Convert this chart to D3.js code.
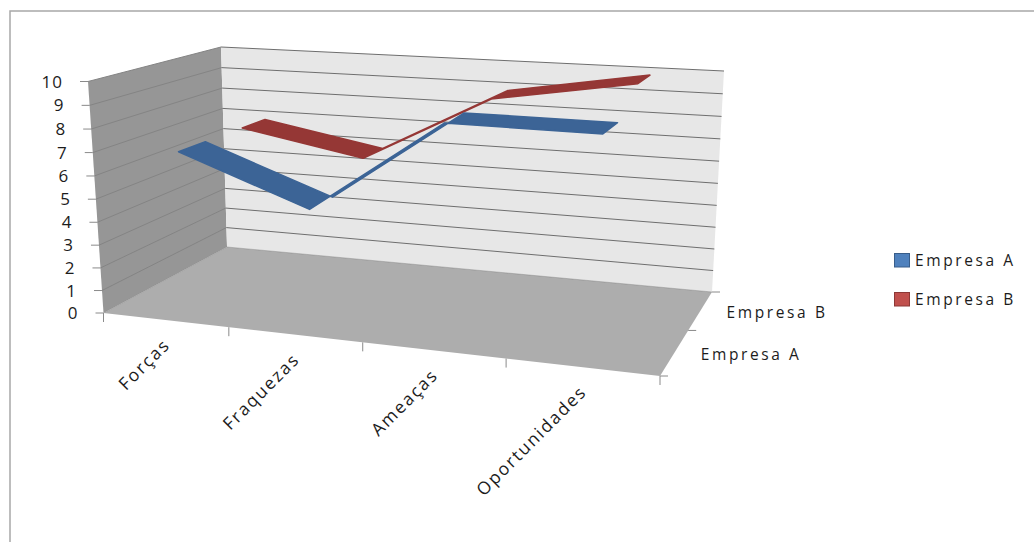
<!DOCTYPE html>
<html lang="pt">
<head>
<meta charset="utf-8">
<script src="https://cdn.jsdelivr.net/npm/d3@7"></script>
<style>
  html, body { margin: 0; padding: 0; background: #fff; }
  svg { display: block; }
  text { font-family: "Open Sans", "Noto Sans", sans-serif; fill: #1c1c1c; }
</style>
</head>
<body>
<svg id="chart" width="1034" height="542"></svg>
<script>
// Chart content
const categories = ["Forças", "Fraquezas", "Ameaças", "Oportunidades"];
const seriesNames = ["Empresa A", "Empresa B"];
const empresaA = [7, 5, 9, 9];
const empresaB = [7, 6, 9, 10];
const valueTicks = [0, 1, 2, 3, 4, 5, 6, 7, 8, 9, 10];
const seriesFill = ["#3c6496", "#953735"];
const swatchFill = ["#4f81bd", "#c0504d"];
const swatchEdge = ["#385d8a", "#8c3836"];

// Box corners on the page: floor and ceiling, listed as
// front-left, front-right, back-right, back-left.
const floorCorners = [[103.5, 313], [660, 376], [712, 292], [227, 247]];
const ceilCorners = [[88, 81.5], [670, 120], [724, 71], [221, 47]];

// Perspective map of the unit square onto a quadrilateral.
function quadMap(q) {
  const [[x0, y0], [x1, y1], [x2, y2], [x3, y3]] = q;
  const dx1 = x1 - x2, dx2 = x3 - x2, sx = x0 - x1 + x2 - x3;
  const dy1 = y1 - y2, dy2 = y3 - y2, sy = y0 - y1 + y2 - y3;
  const det = dx1 * dy2 - dx2 * dy1;
  const g = (sx * dy2 - dx2 * sy) / det;
  const h = (dx1 * sy - sx * dy1) / det;
  const a = x1 - x0 + g * x1, b = x3 - x0 + h * x3;
  const d = y1 - y0 + g * y1, e = y3 - y0 + h * y3;
  return (u, w) => {
    const k = g * u + h * w + 1;
    return [(a * u + b * w + x0) / k, (d * u + e * w + y0) / k];
  };
}
const onFloor = quadMap(floorCorners);
const onCeil = quadMap(ceilCorners);

// Scales from data space to box space
const xBand = d3.scaleBand().domain(categories).range([0, 1]);
const yScale = d3.scaleLinear().domain([0, 10]).range([0, 1]);
const depthBand = d3.scaleBand().domain(seriesNames).range([0, 1]);
const ribbonStart = 0.24, ribbonEnd = 0.64;   // ribbon extent within its depth band
const ribbonShift = 0.018;                    // ribbons sit slightly right of the band centres
const rise = v => { const k = -0.033; return v * (1 + k) / (1 + k * v); };

function project(u, v, w) {
  const a = onFloor(u, w), b = onCeil(u, w), t = rise(v);
  return [a[0] + (b[0] - a[0]) * t, a[1] + (b[1] - a[1]) * t];
}

const svg = d3.select("#chart");
const outline = d3.line();
const axisColor = "#8a8a8a";

// Outer frame, open to the right and bottom
svg.append("path")
  .attr("d", outline([[10, 542], [10, 11], [1034, 11]]))
  .attr("fill", "none").attr("stroke", "#a8a8a8").attr("stroke-width", 1.5);

// Walls and floor
const face = (pts, fill) => svg.append("path")
  .attr("d", outline(pts) + "Z").attr("fill", fill);
face([project(0, 0, 0), project(0, 1, 0), project(0, 1, 1), project(0, 0, 1)], "#969696");
face([project(0, 0, 1), project(0, 1, 1), project(1, 1, 1), project(1, 0, 1)], "#e7e7e7");
face([project(0, 0, 0), project(1, 0, 0), project(1, 0, 1), project(0, 0, 1)], "#adadad");

// Gridlines: lighter along the side wall, darker along the back wall
const gridLayer = svg.append("g").attr("fill", "none").attr("stroke-width", 1);
gridLayer.selectAll("path.side").data(valueTicks).join("path").attr("class", "side")
  .attr("d", v => outline([project(0, yScale(v), 0), project(0, yScale(v), 1)]))
  .attr("stroke", "#848484").attr("stroke-opacity", v => v === 0 ? 0.35 : 1);
gridLayer.selectAll("path.back").data(valueTicks).join("path").attr("class", "back")
  .attr("d", v => outline([project(0, yScale(v), 1), project(1, yScale(v), 1)]))
  .attr("stroke", "#6e6e6e").attr("stroke-opacity", v => v === 0 ? 0.35 : 1);

// Value axis ticks and labels
const yAxis = svg.append("g");
valueTicks.forEach(v => {
  const p = project(0, yScale(v), 0);
  yAxis.append("line").attr("x1", p[0] - 8).attr("y1", p[1]).attr("x2", p[0]).attr("y2", p[1])
    .attr("stroke", axisColor);
  yAxis.append("text").attr("x", p[0] - 25).attr("y", p[1] + 6)
    .attr("text-anchor", "end").attr("font-size", 17).attr("letter-spacing", 1).text(v);
});

// Category axis ticks and slanted labels
const xAxis = svg.append("g");
const edges = d3.range(categories.length + 1).map(i => i * xBand.step());
edges.forEach(u => {
  const p = project(u, 0, 0);
  xAxis.append("line").attr("x1", p[0]).attr("y1", p[1]).attr("x2", p[0]).attr("y2", p[1] + 9)
    .attr("stroke", axisColor);
});
categories.forEach(c => {
  const p = project(xBand(c) + xBand.bandwidth() / 2, 0, 0);
  xAxis.append("text")
    .attr("transform", `translate(${p[0] + 6},${p[1] + 26}) rotate(-45)`)
    .attr("text-anchor", "end").attr("font-size", 17.5).attr("letter-spacing", 1.8).text(c);
});

// Depth axis ticks and labels
const depthAxis = svg.append("g");
[0, 0.5, 1].forEach(w => {
  const p = project(1, 0, w);
  depthAxis.append("line").attr("x1", p[0]).attr("y1", p[1]).attr("x2", p[0] + 8).attr("y2", p[1])
    .attr("stroke", axisColor);
});
seriesNames.forEach(s => {
  const p = project(1, 0, depthBand(s) + depthBand.bandwidth() / 2);
  depthAxis.append("text").attr("x", p[0] + 26).attr("y", p[1] + 8)
    .attr("font-size", 15.5).attr("letter-spacing", 2.6).text(s);
});

// One flat ribbon per series; the far series is painted first
const ribbons = svg.append("g");
[[empresaB, 1], [empresaA, 0]].forEach(([values, idx]) => {
  const name = seriesNames[idx];
  const w0 = depthBand(name) + depthBand.bandwidth() * ribbonStart;
  const w1 = depthBand(name) + depthBand.bandwidth() * ribbonEnd;
  const us = categories.map(c => xBand(c) + xBand.bandwidth() / 2 + ribbonShift);
  const frontEdge = values.map((v, i) => project(us[i], yScale(v), w0));
  const backEdge = values.map((v, i) => project(us[i], yScale(v), w1)).reverse();
  ribbons.append("path")
    .attr("d", outline(frontEdge.concat(backEdge)) + "Z")
    .attr("fill", seriesFill[idx])
    .attr("stroke", seriesFill[idx]).attr("stroke-width", 1.5).attr("stroke-linejoin", "round");
});

// Legend
const legend = svg.append("g").selectAll("g").data(seriesNames).join("g")
  .attr("transform", (d, i) => `translate(894,${253 + i * 39})`);
legend.append("rect").attr("x", 0.5).attr("y", 0.5).attr("width", 15).attr("height", 13.5)
  .attr("fill", (d, i) => swatchFill[i]).attr("stroke", (d, i) => swatchEdge[i]);
legend.append("text").attr("x", 21).attr("y", 13).attr("font-size", 15.5)
  .attr("letter-spacing", 2.6).text(d => d);
</script>
</body>
</html>
